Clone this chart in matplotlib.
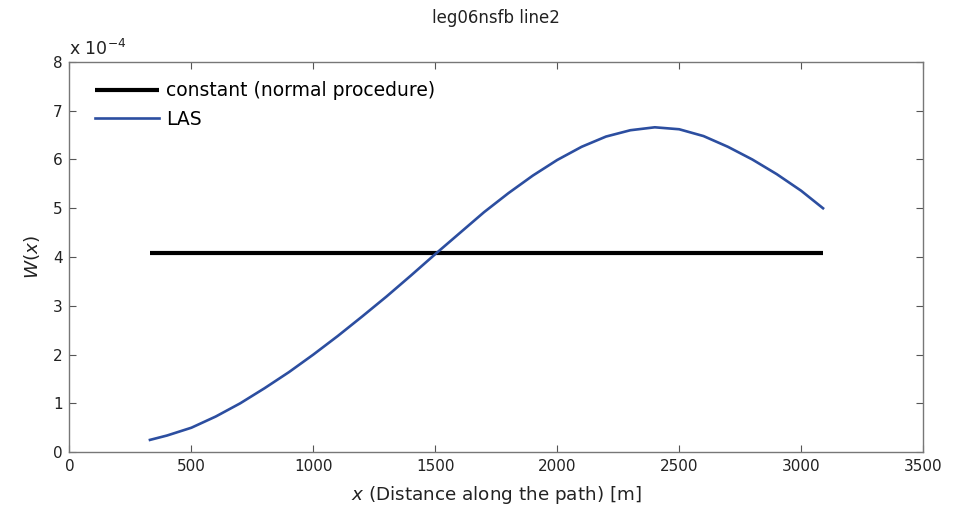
import matplotlib
matplotlib.use("Agg")
import matplotlib.pyplot as plt

plt.rcParams['font.family'] = ['DejaVu Sans']
plt.rcParams['mathtext.fontset'] = 'dejavusans'

# Data (W in units of 1e-4)
x_const = [330, 3090]
w_const = [4.08, 4.08]

x_las = [330, 400, 500, 600, 700, 800, 900, 1000, 1100, 1200, 1300, 1400, 1500,
         1600, 1700, 1800, 1900, 2000, 2100, 2200, 2300, 2400, 2500, 2600, 2700,
         2800, 2900, 3000, 3090]
w_las = [0.25, 0.34, 0.50, 0.73, 1.00, 1.31, 1.64, 2.00, 2.38, 2.78, 3.19, 3.62, 4.06,
         4.49, 4.92, 5.31, 5.67, 5.99, 6.26, 6.47, 6.60, 6.66, 6.62, 6.48, 6.26,
         6.00, 5.70, 5.36, 5.00]

xticks = [0, 500, 1000, 1500, 2000, 2500, 3000, 3500]
yticks = [0, 1, 2, 3, 4, 5, 6, 7, 8]

fig = plt.figure(figsize=(9.65, 5.12), dpi=100)
ax = fig.add_axes([0.072, 0.117, 0.8845, 0.762])

ax.plot(x_const, w_const, color='black', lw=3.0, label='constant (normal procedure)',
        solid_capstyle='butt')
ax.plot(x_las, w_las, color='#2c4ea0', lw=1.9, label='LAS')

ax.set_xlim(0, 3500)
ax.set_ylim(0, 8)
ax.set_xticks(xticks)
ax.set_yticks(yticks)
ax.tick_params(direction='in', top=True, right=True, length=5, width=0.8, pad=5,
               colors='#555555', labelcolor='#222222', labelsize=11)
for s in ax.spines.values():
    s.set_color('#777777')
    s.set_linewidth(1.0)

ax.text(0.0, 1.008, r'x 10$^{-4}$', transform=ax.transAxes, fontsize=12.5,
        color='#222222', ha='left', va='bottom')
ax.set_title('leg06nsfb line2', fontsize=12, color='#222222', pad=28)
ax.set_xlabel(r'$x$ (Distance along the path) [m]', fontsize=13.2, color='#222222', labelpad=7)
ax.set_ylabel(r'$W(x)$', fontsize=13.2, color='#222222', labelpad=8)

leg = ax.legend(loc='upper left', frameon=False, fontsize=13.5, handlelength=3.45,
                handletextpad=0.37, labelspacing=0.5, borderaxespad=0.73,
                borderpad=0.3, bbox_to_anchor=(0.007, 1.0))

fig.savefig('out.png', dpi=100)
